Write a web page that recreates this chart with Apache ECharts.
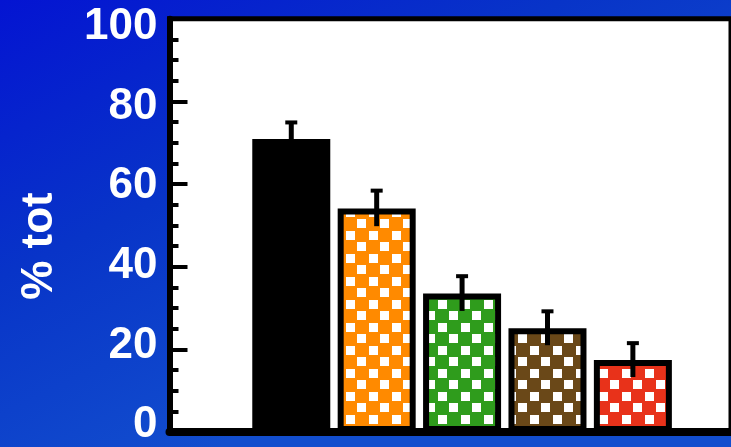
<!DOCTYPE html>
<html>
<head>
<meta charset="utf-8">
<script src="https://cdn.jsdelivr.net/npm/echarts@6/dist/echarts.min.js"></script>
<style>
  html, body { margin: 0; padding: 0; }
  #main { width: 731px; height: 447px; }
</style>
</head>
<body>
<div id="main"></div>
<script>
var groups = ['A', 'B', 'C', 'D', 'E']
var values = [70.9, 54.1, 33.5, 25.1, 17.4]
var errors = [4.0, 4.3, 4.2, 4.1, 4.1]
var yTicks = [0, 20, 40, 60, 80, 100]
var yName = '% tot'

// checkered fills
function checker(color) {
  var c = document.createElement('canvas')
  c.width = 23
  c.height = 23
  var ctx = c.getContext('2d')
  ctx.fillStyle = color
  ctx.fillRect(0, 0, 23, 23)
  ctx.fillStyle = '#ffffff'
  ctx.fillRect(1, 1, 9, 9)
  ctx.fillRect(12, 12, 9, 9)
  return { image: c, repeat: 'repeat' }
}

var fills = ['#000000', checker('#ff8a00'), checker('#2f9c1c'), checker('#6a4818'), checker('#e8321a')]

var chart = echarts.init(document.getElementById('main'))
var font = 'Liberation Sans, Arial, sans-serif'
var step = yTicks[1] - yTicks[0]

var option = {
  animation: false,
  backgroundColor: {
    type: 'linear', x: 0, y: 0, x2: 0.3, y2: 1,
    colorStops: [
      {offset: 0, color: '#0414d2'},
      {offset: 0.5, color: '#0834c8'},
      {offset: 1, color: '#124ece'}
    ]
  },
  grid: [
    {left: 169.5, top: 18.7, right: -2, bottom: 15, show: true,
     backgroundColor: '#ffffff', borderColor: '#000', borderWidth: 5},
    {left: 169.5, top: 27, right: -2, bottom: 15}
  ],
  xAxis: [{
    type: 'value', gridIndex: 0, min: -0.426, max: 6.149,
    axisLine: {show: true, onZero: false, lineStyle: {color: '#000', width: 8}},
    axisTick: {show: false}, axisLabel: {show: false}, splitLine: {show: false}
  }, {
    type: 'value', gridIndex: 1, min: 0, max: 1, show: false
  }],
  yAxis: [{
    type: 'value', gridIndex: 0,
    min: yTicks[0], max: yTicks[yTicks.length - 1], interval: step,
    axisLine: {show: true, onZero: false, lineStyle: {color: '#000', width: 6}},
    axisTick: {show: true, inside: true, length: 18, lineStyle: {color: '#000', width: 4}},
    minorTick: {show: true, splitNumber: 4, length: 9, lineStyle: {color: '#000', width: 4}},
    axisLabel: {show: false},
    splitLine: {show: false}
  }, {
    type: 'value', gridIndex: 1,
    min: yTicks[0], max: yTicks[yTicks.length - 1], interval: step,
    axisLine: {show: false}, axisTick: {show: false}, splitLine: {show: false},
    axisLabel: {color: '#fff', fontWeight: 'bold', fontSize: 44, fontFamily: font, margin: 12}
  }],
  graphic: [{
    type: 'text', x: 40, y: 246, rotation: Math.PI / 2,
    style: {text: yName, fill: '#fff', font: 'bold 44px ' + font, align: 'center', verticalAlign: 'middle'}
  }],
  series: [{
    type: 'bar', xAxisIndex: 0, yAxisIndex: 0,
    barWidth: 78,
    data: values.map(function (v, i) {
      return {
        name: groups[i],
        value: [i + 1, v],
        itemStyle: {color: fills[i], borderColor: '#000', borderWidth: 6}
      }
    })
  }, {
    type: 'custom', xAxisIndex: 0, yAxisIndex: 0, z: 5,
    encode: {x: 0, y: 1},
    data: values.map(function (v, i) { return [i + 1, v, errors[i]] }),
    renderItem: function (params, api) {
      var x = api.value(0), v = api.value(1), e = api.value(2)
      var top = api.coord([x, v + e])
      var bot = api.coord([x, v - e])
      return {
        type: 'group',
        children: [
          {type: 'rect', shape: {x: top[0] - 2.5, y: top[1], width: 5, height: bot[1] - top[1]}, style: {fill: '#000'}},
          {type: 'rect', shape: {x: top[0] - 6, y: top[1] - 2, width: 12, height: 4}, style: {fill: '#000'}}
        ]
      }
    }
  }]
}
chart.setOption(option)
</script>
</body>
</html>
